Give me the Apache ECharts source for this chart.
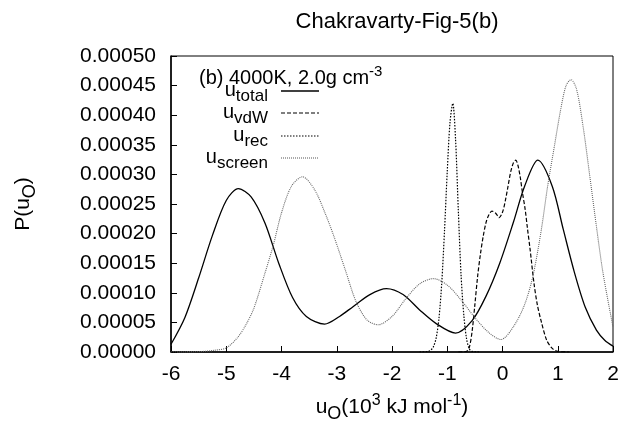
<!DOCTYPE html>
<html>
<head>
<meta charset="utf-8">
<script src="https://cdn.jsdelivr.net/npm/echarts@6/dist/echarts.min.js"></script>
<style>
  html, body { margin: 0; padding: 0; background: #fff; }
  #chart { width: 626px; height: 429px; }
</style>
</head>
<body>
<div id="chart"></div>
<script>
// Energy distributions P(u_O) at 4000 K, 2.0 g/cm^3 (energies in 10^3 kJ/mol)

const totalX = [-6.0, -5.75, -5.5, -5.25, -5.0, -4.78, -4.55, -4.3, -4.05, -3.8, -3.55, -3.22, -2.95, -2.7, -2.4, -2.1, -1.8, -1.5, -1.2, -0.85, -0.55, -0.3, -0.05, 0.2, 0.4, 0.64, 0.9, 1.1, 1.3, 1.5, 1.7, 1.85, 2.0];
const totalY = [0.000013, 0.000058, 0.000125, 0.000197, 0.000256, 0.000276, 0.000262, 0.000218, 0.000150, 0.000092, 0.000060, 0.000047, 0.000060, 0.000077, 0.000097, 0.000107, 0.000097, 0.000071, 0.000048, 0.000032, 0.000053, 0.000094, 0.000150, 0.000220, 0.000280, 0.000324, 0.000280, 0.000207, 0.000135, 0.000075, 0.000037, 0.000020, 0.000010];

const vdwX = [-0.8, -0.65, -0.6, -0.55, -0.5, -0.45, -0.4, -0.35, -0.3, -0.25, -0.19, -0.12, -0.06, 0.0, 0.05, 0.1, 0.15, 0.2, 0.24, 0.28, 0.32, 0.36, 0.41, 0.45, 0.5, 0.57, 0.63, 0.7, 0.8, 0.9, 1.0, 1.2];
const vdwY = [0, 0.000001, 0.000008, 0.000035, 0.000080, 0.000128, 0.000165, 0.000195, 0.000218, 0.000231, 0.000238, 0.000234, 0.000227, 0.000236, 0.000255, 0.000280, 0.000305, 0.000320, 0.000324, 0.000315, 0.000296, 0.000270, 0.000241, 0.000210, 0.000173, 0.000116, 0.000080, 0.000052, 0.000020, 0.000006, 0.000001, 0];

const recX = [-1.5, -1.35, -1.3, -1.25, -1.2, -1.15, -1.1, -1.05, -1.0, -0.95, -0.9, -0.85, -0.8, -0.75, -0.7, -0.65, -0.6, -0.55, -0.4];
const recY = [0, 0.000001, 0.000003, 0.000009, 0.000024, 0.000057, 0.000116, 0.000204, 0.000305, 0.000388, 0.000420, 0.000360, 0.000240, 0.000130, 0.000062, 0.000022, 0.000005, 0.000001, 0];

const screenX = [-6.0, -5.5, -5.25, -5.0, -4.8, -4.65, -4.5, -4.3, -4.15, -4.0, -3.82, -3.62, -3.4, -3.2, -3.05, -2.85, -2.65, -2.45, -2.25, -2.0, -1.75, -1.5, -1.25, -1.0, -0.75, -0.5, -0.25, -0.03, 0.2, 0.4, 0.55, 0.7, 0.82, 0.94, 1.05, 1.15, 1.24, 1.34, 1.46, 1.58, 1.7, 1.82, 2.0];
const screenY = [0, 0.0000005, 0.0000025, 0.000007, 0.000024, 0.000045, 0.000074, 0.000133, 0.000180, 0.000235, 0.000280, 0.000296, 0.000274, 0.000232, 0.000195, 0.000140, 0.000085, 0.000054, 0.000046, 0.000060, 0.000090, 0.000115, 0.000124, 0.000113, 0.000088, 0.000058, 0.000033, 0.000021, 0.000043, 0.000080, 0.000128, 0.000205, 0.000282, 0.000348, 0.000408, 0.000450, 0.000460, 0.000444, 0.000380, 0.000297, 0.000212, 0.000133, 0.000042];

const xTicks = { min: -6, max: 2, step: 1 };
const yTicks = { min: 0, max: 0.0005, step: 0.00005 };

const FONT = 'Liberation Sans';

const styles = {
  total:  { color: '#000000', width: 1.3, dash: 'solid' },
  vdw:    { color: '#000000', width: 1.2, dash: [4, 2] },
  rec:    { color: '#000000', width: 1.2, dash: [1.5, 1.5] },
  screen: { color: '#666666', width: 1.1, dash: [1, 1] }
};

function pairs(xs, ys) { return xs.map((x, i) => [x, ys[i]]); }

function lineSeries(name, xs, ys, st) {
  return {
    name: name,
    type: 'line',
    data: pairs(xs, ys),
    showSymbol: false,
    symbol: 'none',
    smooth: 0.3,
    clip: true,
    silent: true,
    lineStyle: { color: st.color, width: st.width, type: st.dash }
  };
}

function richSet(main, sub, sup) {
  return {
    m: { fontFamily: FONT, fontSize: main, color: '#000', verticalAlign: 'middle' },
    s: { fontFamily: FONT, fontSize: sub, color: '#000', verticalAlign: 'middle', padding: [13, 0, 0, 0] },
    p: { fontFamily: FONT, fontSize: sup, color: '#000', verticalAlign: 'middle', padding: [0, 0, 13, 0] }
  };
}
const richText = richSet(20, 17, 15);
const richName = richSet(21, 18, 16);

// legend rows: label text, style key, row centre
const legendRows = [
  { text: '{m|u}{s|total}', key: 'total', y: 91 },
  { text: '{m|u}{s|vdW}', key: 'vdw', y: 113 },
  { text: '{m|u}{s|rec}', key: 'rec', y: 136 },
  { text: '{m|u}{s|screen}', key: 'screen', y: 158 }
];

const graphics = [];
graphics.push({
  type: 'text', x: 199, y: 78, silent: true,
  style: {
    text: '{m|(b) 4000K, 2.0g cm}{p|-3}',
    align: 'left', verticalAlign: 'middle',
    rich: richText
  }
});
legendRows.forEach(r => {
  const st = styles[r.key];
  graphics.push({
    type: 'text', x: 268, y: r.y - 1, silent: true,
    style: { text: r.text, align: 'right', verticalAlign: 'middle', rich: richText }
  });
  graphics.push({
    type: 'line', silent: true,
    shape: { x1: 281, y1: r.y, x2: 319, y2: r.y },
    style: { stroke: st.color, lineWidth: st.width, lineDash: st.dash === 'solid' ? null : st.dash }
  });
});

const chart = echarts.init(document.getElementById('chart'), null, { renderer: 'canvas' });
chart.setOption({
  animation: false,
  backgroundColor: '#ffffff',
  title: {
    text: 'Chakravarty-Fig-5(b)',
    left: 392, top: 6, textAlign: 'center',
    textStyle: { fontFamily: FONT, fontSize: 22, fontWeight: 'normal', color: '#000' }
  },
  grid: {
    left: 171, right: 13, top: 56, bottom: 77,
    show: true, borderColor: '#000', borderWidth: 1, backgroundColor: 'transparent'
  },
  xAxis: {
    type: 'value', min: xTicks.min, max: xTicks.max, interval: xTicks.step,
    name: '{m|u}{s|O}{m|(10}{p|3}{m| kJ mol}{p|-1}{m|)}',
    nameLocation: 'middle', nameGap: 40,
    nameTextStyle: { rich: richName },
    axisLine: { onZero: false, lineStyle: { color: '#000', width: 1.5 } },
    axisTick: { inside: true, length: 6, lineStyle: { color: '#000', width: 1 } },
    axisLabel: { margin: 12, fontFamily: FONT, fontSize: 21, color: '#000' },
    splitLine: { show: false }
  },
  yAxis: {
    type: 'value', min: yTicks.min, max: yTicks.max, interval: yTicks.step,
    name: '{m|P(u}{s|O}{m|)}',
    nameLocation: 'middle', nameGap: 132, nameRotate: 90,
    nameTextStyle: { rich: richName },
    axisLine: { show: true, onZero: false, lineStyle: { color: '#000', width: 1.5 } },
    axisTick: { show: true, inside: true, length: 6, lineStyle: { color: '#000', width: 1 } },
    axisLabel: { margin: 15, fontFamily: FONT, fontSize: 21, color: '#000', formatter: v => v.toFixed(5) },
    splitLine: { show: false }
  },
  series: [
    lineSeries('u_total', totalX, totalY, styles.total),
    lineSeries('u_vdW', vdwX, vdwY, styles.vdw),
    lineSeries('u_rec', recX, recY, styles.rec),
    lineSeries('u_screen', screenX, screenY, styles.screen)
  ],
  graphic: graphics
});
</script>
</body>
</html>
